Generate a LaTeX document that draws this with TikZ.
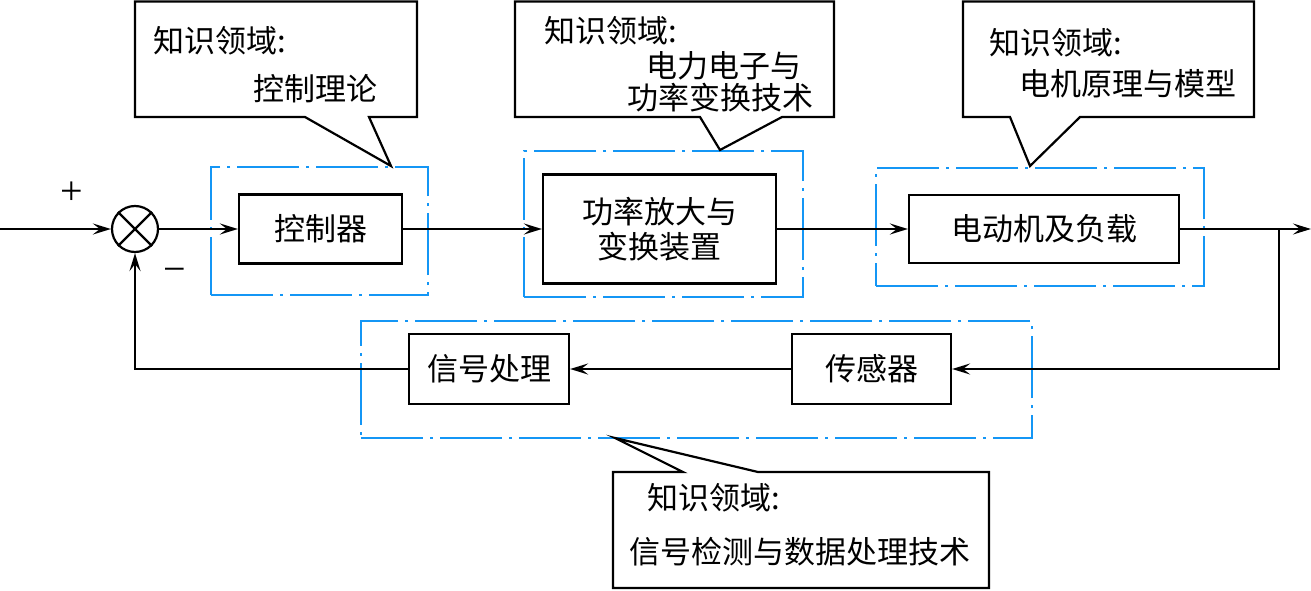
\documentclass[tikz,border=0pt]{standalone}
\usepackage{fontspec}
\newfontfamily\cjk{Noto Sans CJK SC}
\newfontfamily\lat{Liberation Serif}
\usetikzlibrary{arrows.meta}
\definecolor{frameblue}{RGB}{20,150,245}
\tikzset{
  blk/.style={draw, line width=2.2pt, inner sep=0pt, font=\cjk\fontsize{31}{35}\selectfont, align=center},
  frm/.style={draw=frameblue, line width=2.2pt, dash pattern=on 62pt off 7pt on 3pt off 7pt},
  lnk/.style={line width=2.2pt},
  arr/.style={lnk, -{Stealth[length=18pt,width=11pt,inset=7pt]}},
  call/.style={draw, line width=2.2pt, line join=miter},
  ctxt/.style={anchor=west, inner sep=0pt, font=\cjk\fontsize{31}{35}\selectfont},
  sgn/.style={inner sep=0pt, font=\lat\fontsize{40}{42}\selectfont},
}
\begin{document}
\begin{tikzpicture}[x=1pt,y=-1pt]
\useasboundingbox (0,0) rectangle (1311,591);
% blue frames
\node[frm, minimum width=217pt, minimum height=128pt] (f1) at (319.5,231) {};
\node[frm, minimum width=279pt, minimum height=146pt] (f2) at (663.5,224) {};
\node[frm, minimum width=328pt, minimum height=118pt] (f3) at (1040,227) {};
\node[frm, minimum width=671pt, minimum height=117pt] (f4) at (696.5,379.5) {};
% blocks
\node[circle, draw, line width=2.2pt, minimum size=46pt, inner sep=0pt] (sum) at (135,229) {};
\draw[lnk] (sum.north west) -- (sum.south east) (sum.north east) -- (sum.south west);
\node[blk, minimum width=163pt, minimum height=69pt] (ctrl) at (320.5,229) {控制器};
\node[blk, minimum width=233pt, minimum height=109pt] (amp) at (659.5,229) {功率放大与\\变换装置};
\node[blk, minimum width=270pt, minimum height=68pt] (mot) at (1044,229) {电动机及负载};
\node[blk, minimum width=159pt, minimum height=70pt] (sens) at (871.5,369) {传感器};
\node[blk, minimum width=160pt, minimum height=70pt] (sig) at (489,369) {信号处理};
% signs
\node[sgn] (plus) at (72,193) {+};
\node[sgn] (minus) at (175,275) {−};
% connectors
\coordinate (in) at (0,229);
\coordinate (out) at (1311,229);
\coordinate (br) at (1279,229);
\draw[arr] (in) -- (sum.west);
\draw[arr] (sum.east) -- (ctrl.west);
\draw[arr] (ctrl.east) -- (amp.west);
\draw[arr] (amp.east) -- (mot.west);
\draw[arr] (mot.east) -- (out);
\draw[arr] (br) |- (sens.east);
\draw[arr] (sens.west) -- (sig.east);
\draw[arr] (sig.west) -| (sum.south);
% callouts
\draw[call] (135,1.5) -- (417,1.5) -- (417,117) -- (369,117) -- (391,166) -- (305,117) -- (135,117) -- cycle;
\node[ctxt] (c1a) at (153,41) {知识领域:};
\node[ctxt] (c1b) at (253,89) {控制理论};
\draw[call] (515,1.5) -- (834,1.5) -- (834,117) -- (782,117) -- (720,150) -- (700,117) -- (515,117) -- cycle;
\node[ctxt] (c2a) at (544,31) {知识领域:};
\node[ctxt] (c2b) at (646,66) {电力电子与};
\node[ctxt] (c2c) at (627,98) {功率变换技术};
\draw[call] (963,1.5) -- (1254,1.5) -- (1254,117) -- (1080,117) -- (1030,166) -- (1010,117) -- (963,117) -- cycle;
\node[ctxt] (c3a) at (989,43) {知识领域:};
\node[ctxt] (c3b) at (1019,84) {电机原理与模型};
\draw[call] (613,472) -- (683,472) -- (615,438) -- (758,472) -- (989,472) -- (989,588) -- (613,588) -- cycle;
\node[ctxt] (c4a) at (647,498) {知识领域:};
\node[ctxt] (c4b) at (629,552) {信号检测与数据处理技术};
\end{tikzpicture}
\end{document}
